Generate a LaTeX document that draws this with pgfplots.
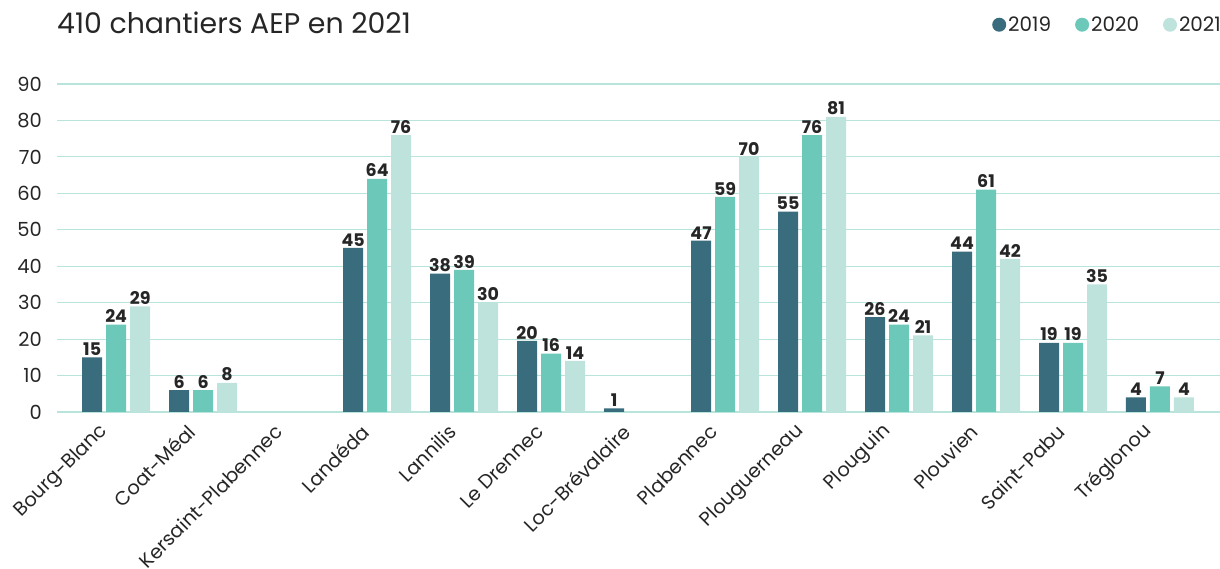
\documentclass[border=0pt]{standalone}
\usepackage{fontspec}
\setmainfont{Poppins}
\usepackage{pgfplots}
\pgfplotsset{compat=1.18}
\definecolor{c19}{HTML}{396C7D}
\definecolor{c20}{HTML}{6CC9B9}
\definecolor{c21}{HTML}{BDE3DC}
\definecolor{gridc}{HTML}{B8E4DB}
\definecolor{txt}{HTML}{262626}
\begin{document}
\begin{tikzpicture}[x=1bp,y=1bp]
\useasboundingbox (0,0) rectangle (1220,569);
\node[anchor=base west, font=\fontsize{28.5}{30}\selectfont, text=txt, inner sep=0pt] at (57,535) {410 chantiers AEP en 2021};
\begin{axis}[
  at={(57bp,157bp)}, anchor=south west,
  scale only axis, width=1163bp, height=328bp,
  xmin=-0.68, xmax=12.69, ymin=0, ymax=90,
  axis line style={draw=none},
  ymajorgrids, grid style={gridc, line width=1.2bp},
  major tick length=0pt,
  ytick={0,10,...,90},
  xtick={0,...,12},
  xticklabels={Bourg-Blanc,Coat-Méal,Kersaint-Plabennec,Landéda,Lannilis,Le Drennec,Loc-Brévalaire,Plabennec,Plouguerneau,Plouguin,Plouvien,Saint-Pabu,Tréglonou},
  x tick label style={rotate=45, anchor=east, inner ysep=0pt, inner xsep=16bp, font=\fontsize{19.5}{19.5}\selectfont, text=txt},
  xticklabel shift=5bp,
  y tick label style={font=\fontsize{19.5}{19.5}\selectfont, text=txt, inner sep=0pt, xshift=-15bp, anchor=east},
  /pgf/number format/assume math mode=true,
  ybar=4bp, bar width=20bp,
  point meta=explicit symbolic,
  nodes near coords,
  nodes near coords style={font=\bfseries\fontsize{17.5}{17.5}\selectfont, text=txt, inner sep=1.5bp},
  legend style={at={(1,1)}, anchor=south east, xshift=6bp, yshift=47bp, draw=none, fill=none,
    legend columns=3, font=\fontsize{20}{20}\selectfont, text=txt,
    /tikz/every even column/.append style={column sep=22bp}},
  legend cell align=left,
]
\addplot[fill=c19, draw=none, legend image code/.code={\fill[c19] (0bp,0bp) circle (7bp);}] coordinates {(0,15)[15] (1,6)[6] (3,45)[45] (4,38)[38] (5,19.5)[20] (6,1)[1] (7,47)[47] (8,55)[55] (9,26)[26] (10,44)[44] (11,19)[19] (12,4)[4]};
\addplot[fill=c20, draw=none, legend image code/.code={\fill[c20] (0bp,0bp) circle (7bp);}] coordinates {(0,24)[24] (1,6)[6] (3,64)[64] (4,39)[39] (5,16)[16] (7,59)[59] (8,76)[76] (9,24)[24] (10,61)[61] (11,19)[19] (12,7)[7]};
\addplot[fill=c21, draw=none, legend image code/.code={\fill[c21] (0bp,0bp) circle (7bp);}] coordinates {(0,29)[29] (1,8)[8] (3,76)[76] (4,30)[30] (5,14)[14] (7,70)[70] (8,81)[81] (9,21)[21] (10,42)[42] (11,35)[35] (12,4)[4]};
\legend{2019,2020,2021}
\end{axis}
\end{tikzpicture}
\end{document}
